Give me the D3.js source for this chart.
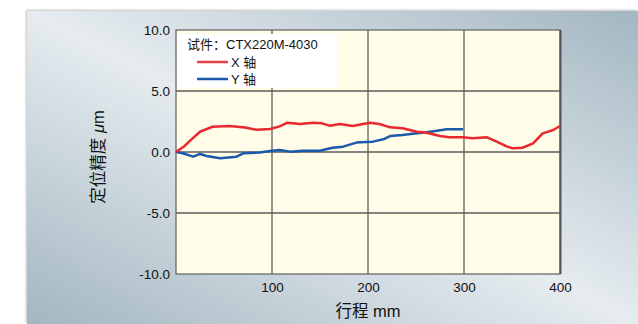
<!DOCTYPE html>
<html><head><meta charset="utf-8">
<script src="https://cdn.jsdelivr.net/npm/d3@7/dist/d3.min.js"></script>
<style>
html,body{margin:0;padding:0;background:#fff;}
svg{display:block;font-family:"Liberation Sans",Arial,"Noto Sans CJK SC",sans-serif;}
</style></head><body>
<svg id="c" width="638" height="324"></svg>
<script>
const xTicks = [100, 200, 300, 400];
const yTicks = [-10, -5, 0, 5, 10];
const xMM = [0, 9, 15, 25, 38, 56, 72, 84, 98, 108, 116, 129, 143, 152, 160, 171, 184, 199, 202, 212, 223, 236, 251, 261, 275, 285, 299, 309, 324, 334, 345, 351, 361, 372, 382, 393, 400];
const xErr = [0, 0.5, 0.95, 1.66, 2.07, 2.13, 2.0, 1.82, 1.88, 2.1, 2.4, 2.3, 2.4, 2.35, 2.16, 2.3, 2.13, 2.35, 2.4, 2.3, 2.02, 1.94, 1.66, 1.58, 1.31, 1.2, 1.2, 1.12, 1.2, 0.85, 0.44, 0.3, 0.35, 0.7, 1.53, 1.8, 2.13];
const yMM = [0, 7, 18, 25, 32, 46, 63, 70, 87, 98, 108, 119, 132, 150, 163, 174, 188, 192, 205, 216, 223, 236, 251, 261, 272, 282, 299];
const yErr = [0, -0.1, -0.38, -0.16, -0.33, -0.52, -0.38, -0.11, -0.05, 0.08, 0.16, 0.03, 0.1, 0.1, 0.35, 0.44, 0.77, 0.8, 0.85, 1.04, 1.31, 1.39, 1.53, 1.61, 1.75, 1.86, 1.86];
const legendTitle = "试件：CTX220M-4030";
const seriesNames = ["X 轴", "Y 轴"];

const svg = d3.select("#c");
const defs = svg.append("defs");
const g = defs.append("linearGradient").attr("id","bg").attr("x1","0").attr("y1","1").attr("x2","1").attr("y2","0");
g.append("stop").attr("offset","0").attr("stop-color","#a3b6c1");
g.append("stop").attr("offset","0.5").attr("stop-color","#e6ecf0");
g.append("stop").attr("offset","1").attr("stop-color","#a3b6c1");
const sh = defs.append("filter").attr("id","sh").attr("x","-5%").attr("y","-5%").attr("width","110%").attr("height","110%");
sh.append("feDropShadow").attr("dx",-1).attr("dy",-1).attr("stdDeviation",1).attr("flood-color","#000").attr("flood-opacity",0.25);

svg.append("rect").attr("x",27).attr("y",11).attr("width",611).attr("height",313).attr("fill","url(#bg)").attr("filter","url(#sh)");

const L=176,R=560,T=30,B=274;
const x = d3.scaleLinear().domain([0,400]).range([L,R]);
const y = d3.scaleLinear().domain([-10,10]).range([B,T]);

svg.append("rect").attr("x",L).attr("y",T).attr("width",R-L).attr("height",B-T).attr("fill","#fffce8");

// grid
const grid = svg.append("g").attr("stroke","#5e5e5e").attr("stroke-width",1.3);
xTicks.filter(d=>d<400).forEach(d=>grid.append("line").attr("x1",x(d)).attr("x2",x(d)).attr("y1",T).attr("y2",B));
yTicks.filter(d=>d>-10&&d<10).forEach(d=>grid.append("line").attr("x1",L).attr("x2",R).attr("y1",y(d)).attr("y2",y(d)));

// legend box
svg.append("rect").attr("x",178).attr("y",34).attr("width",159).attr("height",54).attr("fill","#ffffff");

// border
svg.append("rect").attr("x",L).attr("y",T).attr("width",R-L).attr("height",B-T).attr("fill","none").attr("stroke","#6a6a6a").attr("stroke-width",1.3);
svg.append("line").attr("x1",R+0.5).attr("x2",R+0.5).attr("y1",T).attr("y2",B).attr("stroke","#555").attr("stroke-width",2);

// axes labels
const fmt = d => d.toFixed(1);
const ya = d3.axisLeft(y).tickValues(yTicks).tickFormat(fmt).tickSize(0).tickPadding(6);
const yg = svg.append("g").attr("transform",`translate(${L},0)`).call(ya);
yg.select(".domain").remove();
yg.selectAll("text").attr("font-size",13.5).attr("fill","#111").attr("font-family","'Liberation Sans',Arial,sans-serif");

const xa = d3.axisBottom(x).tickValues(xTicks).tickSize(0).tickPadding(8);
const xg = svg.append("g").attr("transform",`translate(0,${B})`).call(xa);
xg.select(".domain").remove();
xg.selectAll("text").attr("font-size",13.5).attr("fill","#111").attr("font-family","'Liberation Sans',Arial,sans-serif");

// lines
const line = d3.line().x(d=>x(d[0])).y(d=>y(d[1]));
const redData = xMM.map((m,i)=>[m,xErr[i]]);
const blueData = yMM.map((m,i)=>[m,yErr[i]]);
svg.append("path").attr("d",line(blueData)).attr("fill","none").attr("stroke","#1a5aab").attr("stroke-width",2.5).attr("stroke-linejoin","round");
svg.append("path").attr("d",line(redData)).attr("fill","none").attr("stroke","#e8282f").attr("stroke-width",2.5).attr("stroke-linejoin","round");

// legend
svg.append("text").attr("x",187).attr("y",49).attr("font-size",13).attr("fill","#111").text(legendTitle);
const colors=["#e8404a","#1a5aab"];
seriesNames.forEach((n,i)=>{
  const yy = 62 + i*17;
  svg.append("line").attr("x1",197).attr("x2",228).attr("y1",yy).attr("y2",yy).attr("stroke",colors[i]).attr("stroke-width",2.5);
  svg.append("text").attr("x",231).attr("y",yy+5).attr("font-size",13).attr("fill","#111").text(n);
});

// titles
svg.append("text").attr("transform","translate(104,157) rotate(-90)").attr("text-anchor","middle").attr("font-size",16.5).attr("fill","#111")
  .html('定位精度 <tspan font-style="italic">μ</tspan>m');
svg.append("text").attr("x",368).attr("y",317).attr("text-anchor","middle").attr("font-size",16.5).attr("fill","#111").text("行程 mm");
</script>
</body></html>
